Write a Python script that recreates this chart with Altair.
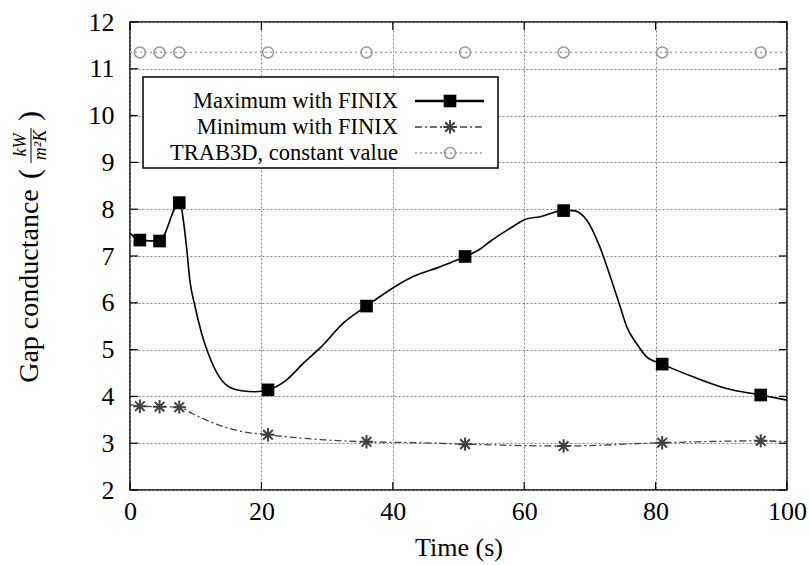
import altair as alt
import pandas as pd

# ---------------- data ----------------
# Maximum with FINIX : continuous curve
t_max_curve = [0, 1.5, 4.5, 7.5, 8.6, 9.1, 9.9, 10.9, 11.9, 13.4, 14.9, 17, 19, 21,
               23.8, 26.4, 28.9, 32.5, 36, 38, 43.1, 47.2, 51, 53.3, 54.8, 58.3,
               60.1, 62.4, 66, 67.4, 69.5, 71.5, 73.1, 74.6, 75.6, 77.1, 78.6, 81,
               85.7, 90.8, 96, 100]
g_max_curve = [7.49, 7.34, 7.32, 8.14, 7.20, 6.49, 5.92, 5.35, 4.92, 4.46, 4.22, 4.12,
               4.10, 4.14, 4.35, 4.71, 5.03, 5.57, 5.93, 6.13, 6.56, 6.77, 6.99, 7.15,
               7.31, 7.63, 7.78, 7.84, 7.97, 7.97, 7.77, 7.20, 6.56, 5.92, 5.49, 5.13,
               4.85, 4.69, 4.42, 4.17, 4.03, 3.92]

# Minimum with FINIX : continuous curve
t_min_curve = [0, 1.5, 4.5, 7.5, 9.4, 12.9, 17, 21, 29.7, 36, 43.8, 51, 66, 81, 96, 100]
g_min_curve = [3.83, 3.79, 3.78, 3.77, 3.64, 3.42, 3.25, 3.18, 3.07, 3.03, 3.01, 2.98,
               2.94, 3.01, 3.05, 3.03]

# marker positions
t_marks = [1.5, 4.5, 7.5, 21, 36, 51, 66, 81, 96]
max_marks = [7.34, 7.32, 8.14, 4.14, 5.93, 6.99, 7.97, 4.69, 4.03]
min_marks = [3.79, 3.78, 3.77, 3.18, 3.03, 2.98, 2.94, 3.01, 3.05]
trab_value = 11.35
trab_span = [0, 100]

series_labels = ["Maximum with FINIX", "Minimum with FINIX", "TRAB3D, constant value"]
x_ticks = [0, 20, 40, 60, 80, 100]
y_ticks = [2, 3, 4, 5, 6, 7, 8, 9, 10, 11, 12]

# ---------------- tables ----------------
df_max = pd.DataFrame({"t": t_max_curve, "g": g_max_curve})
df_min = pd.DataFrame({"t": t_min_curve, "g": g_min_curve})
df_marks = pd.DataFrame({"t": t_marks, "gmax": max_marks, "gmin": min_marks,
                         "gtrab": [trab_value] * len(t_marks)})
df_trab = pd.DataFrame({"t": trab_span, "g": [trab_value] * len(trab_span)})
df_xt = pd.DataFrame({"t": x_ticks})
df_yt = pd.DataFrame({"g": y_ticks})
one = pd.DataFrame({"a": [0]})

W, H = 657, 468
FONT = "Liberation Serif"
xs = alt.Scale(domain=[0, 100], nice=False, zero=False)
ys = alt.Scale(domain=[2, 12], nice=False, zero=False)

ASTER = "M-1,0L1,0M0,-1L0,1M-0.72,-0.72L0.72,0.72M-0.72,0.72L0.72,-0.72"
MAX_C, MIN_C, TRAB_C = "#000000", "#404040", "#999999"

x_axis = alt.Axis(values=x_ticks, grid=True, gridColor="#808080", gridDash=[2, 2],
                  gridWidth=1, domain=False, ticks=False, labelFont=FONT,
                  labelFontSize=26, labelColor="black", labelPadding=8,
                  labelFlush=False, labelOverlap=False,
                  title="Time (s)", titleFont=FONT, titleFontSize=26,
                  titleFontWeight="normal", titleColor="black", titlePadding=10)
y_axis = alt.Axis(values=y_ticks, grid=True, gridColor="#808080", gridDash=[2, 2],
                  gridWidth=1, domain=False, ticks=False, labelFont=FONT,
                  labelFontSize=26, labelColor="black", labelPadding=16,
                  labelFlush=False, labelOverlap=False, title="")


def X(f):
    return alt.X(f"{f}:Q", scale=xs, axis=x_axis, title="Time (s)")


def Y(f):
    return alt.Y(f"{f}:Q", scale=ys, axis=y_axis, title="")


max_line = alt.Chart(df_max).mark_line(color=MAX_C, strokeWidth=1.6,
                                       interpolate="monotone").encode(x=X("t"), y=Y("g"))
min_line = alt.Chart(df_min).mark_line(color=MIN_C, strokeWidth=1.3,
                                       strokeDash=[7, 3, 2, 3],
                                       interpolate="monotone").encode(x=X("t"), y=Y("g"))
trab_line = alt.Chart(df_trab).mark_line(color=TRAB_C, strokeWidth=1.3,
                                         strokeDash=[2, 3]).encode(x=X("t"), y=Y("g"))

max_pts = alt.Chart(df_marks).mark_point(shape="square", filled=True, color=MAX_C,
                                         size=160, opacity=1).encode(x=X("t"), y=Y("gmax"))
min_pts = alt.Chart(df_marks).mark_point(shape=ASTER, filled=False, color=MIN_C,
                                         size=180, strokeWidth=2, opacity=1).encode(
    x=X("t"), y=Y("gmin"))
trab_pts = alt.Chart(df_marks).mark_point(shape="circle", filled=False, color=TRAB_C,
                                          size=120, strokeWidth=1.6, opacity=1).encode(
    x=X("t"), y=Y("gtrab"))

# inward ticks on all four sides (gnuplot style)
TL = 8
tick_left = alt.Chart(df_yt).mark_rule(color="black", strokeWidth=1.2).encode(
    y=Y("g"), x=alt.value(0), x2=alt.value(TL))
tick_right = alt.Chart(df_yt).mark_rule(color="black", strokeWidth=1.2).encode(
    y=Y("g"), x=alt.value(W - TL), x2=alt.value(W))
tick_bottom = alt.Chart(df_xt).mark_rule(color="black", strokeWidth=1.2).encode(
    x=X("t"), y=alt.value(H - TL), y2=alt.value(H))
tick_top = alt.Chart(df_xt).mark_rule(color="black", strokeWidth=1.2).encode(
    x=X("t"), y=alt.value(0), y2=alt.value(TL))

# ---------------- legend (gnuplot style: label left, sample right) ----------------
leg_box = alt.Chart(one).mark_rect(fill="white", stroke="black", strokeWidth=1.5).encode(
    x=alt.value(13), x2=alt.value(368), y=alt.value(55), y2=alt.value(146))
rows = [79, 105, 131]
leg_layers = [leg_box]
line_styles = [
    dict(color=MAX_C, strokeWidth=2.6),
    dict(color=MIN_C, strokeWidth=1.3, strokeDash=[7, 3, 2, 3]),
    dict(color=TRAB_C, strokeWidth=1.3, strokeDash=[2, 3]),
]
point_styles = [
    dict(shape="square", filled=True, color=MAX_C, size=160, opacity=1),
    dict(shape=ASTER, filled=False, color=MIN_C, size=180, strokeWidth=2, opacity=1),
    dict(shape="circle", filled=False, color=TRAB_C, size=120, strokeWidth=1.6, opacity=1),
]
for lab, yr, ls, ps in zip(series_labels, rows, line_styles, point_styles):
    leg_layers.append(alt.Chart(one).mark_text(text=lab, align="right", baseline="middle",
                                               font=FONT, fontSize=22.5, color="black").encode(
        x=alt.value(268), y=alt.value(yr)))
    leg_layers.append(alt.Chart(one).mark_rule(**ls).encode(
        x=alt.value(285), x2=alt.value(354), y=alt.value(yr)))
    leg_layers.append(alt.Chart(one).mark_point(**ps).encode(
        x=alt.value(320), y=alt.value(yr)))

# ---------------- y-axis title with fraction ----------------
ytitle = [
    alt.Chart(one).mark_text(text="Gap conductance", angle=270, align="center",
                             baseline="middle", font=FONT, fontSize=28, color="black").encode(
        x=alt.value(-100), y=alt.value(264)),
    alt.Chart(one).mark_text(text="(", angle=270, align="center", baseline="middle",
                             font=FONT, fontSize=30, color="black").encode(
        x=alt.value(-100), y=alt.value(152)),
    alt.Chart(one).mark_text(text="kW", angle=270, align="center", baseline="middle",
                             font=FONT, fontSize=18, fontStyle="italic", color="black").encode(
        x=alt.value(-109), y=alt.value(123)),
    alt.Chart(one).mark_rule(color="black", strokeWidth=1).encode(
        x=alt.value(-99), y=alt.value(106), y2=alt.value(141)),
    alt.Chart(one).mark_text(text="m²K", angle=270, align="center", baseline="middle",
                             font=FONT, fontSize=18, fontStyle="italic", color="black").encode(
        x=alt.value(-89), y=alt.value(123)),
    alt.Chart(one).mark_text(text=")", angle=270, align="center", baseline="middle",
                             font=FONT, fontSize=30, color="black").encode(
        x=alt.value(-100), y=alt.value(94)),
]

chart = alt.layer(
    trab_line, trab_pts, min_line, min_pts, max_line, max_pts,
    tick_left, tick_right, tick_bottom, tick_top, *leg_layers, *ytitle,
).properties(
    width=W, height=H,
    padding={"left": 130, "top": 22, "right": 22, "bottom": 75},
    autosize=alt.AutoSizeParams(type="none"),
    background="white",
).configure_view(stroke="black", strokeWidth=1.5)

chart.save("out.html", embed_options={"renderer": "svg", "actions": False})
